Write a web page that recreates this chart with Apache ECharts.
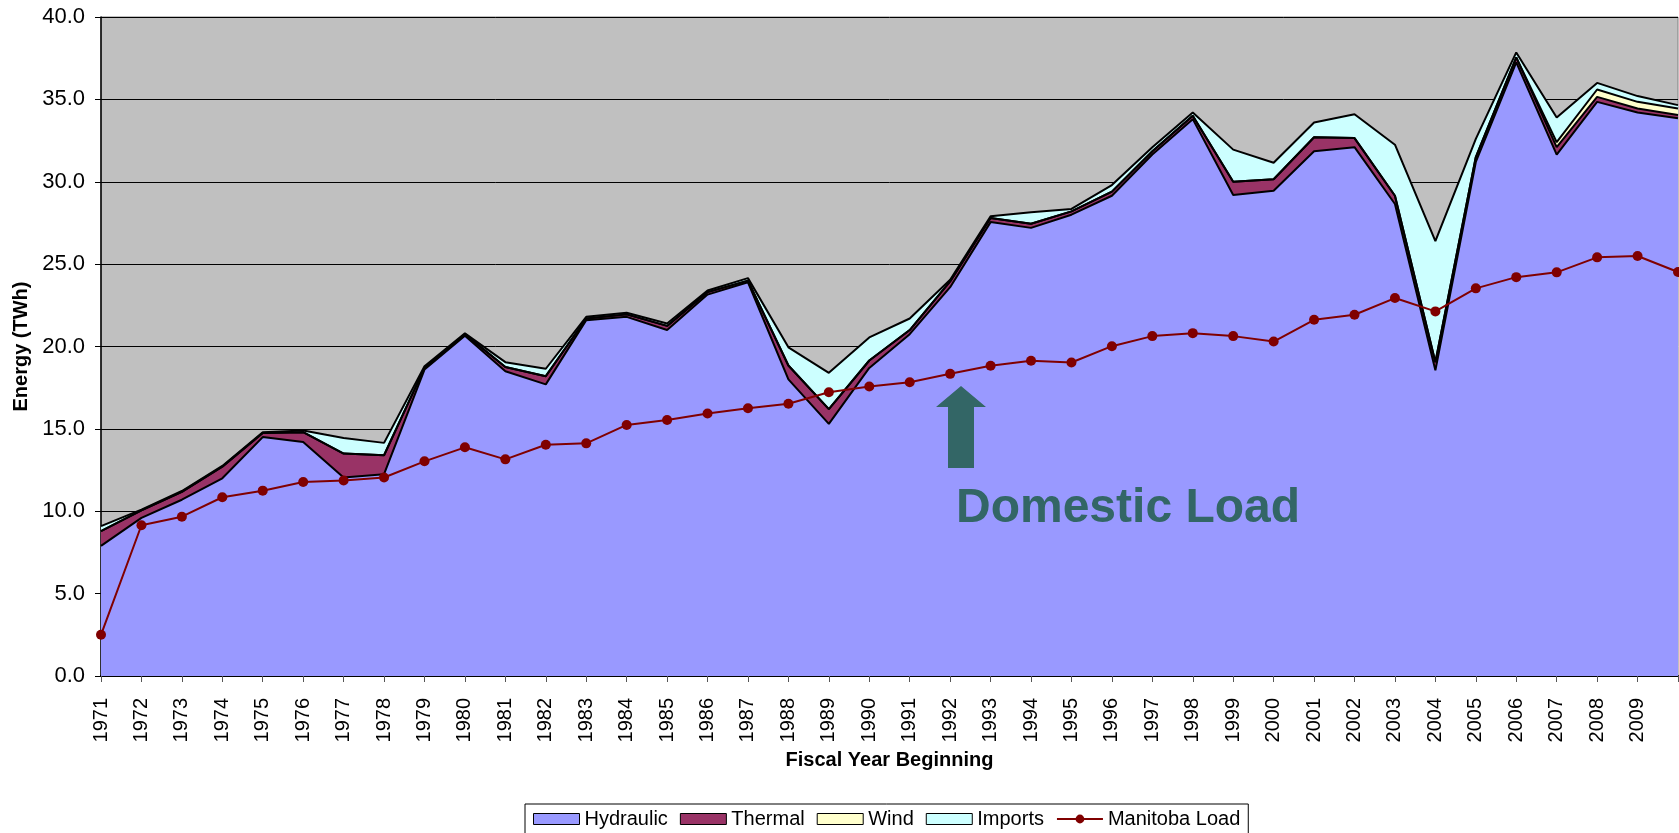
<!DOCTYPE html>
<html>
<head>
<meta charset="utf-8">
<script src="https://cdn.jsdelivr.net/npm/echarts@6/dist/echarts.min.js"></script>
<style>
html,body{margin:0;padding:0;background:#fff;}
#chart{width:1679px;height:833px;}
</style>
</head>
<body>
<div id="chart"></div>
<script>
const years = ['1971','1972','1973','1974','1975','1976','1977','1978','1979','1980',
  '1981','1982','1983','1984','1985','1986','1987','1988','1989','1990',
  '1991','1992','1993','1994','1995','1996','1997','1998','1999','2000',
  '2001','2002','2003','2004','2005','2006','2007','2008','2009','2010'];
const hydraulic = [7.9,9.6,10.7,12.0,14.5,14.2,12.05,12.25,18.6,20.65,
  18.5,17.7,21.6,21.8,21.0,23.15,23.9,18.0,15.3,18.7,
  20.75,23.6,27.55,27.2,28.0,29.15,31.65,33.8,29.2,29.45,
  31.85,32.1,28.65,18.55,31.2,37.25,31.65,34.85,34.2,33.85];
const thermal = [0.9,0.45,0.48,0.7,0.25,0.6,1.45,1.15,0.1,0.1,
  0.25,0.5,0.1,0.15,0.25,0.15,0.1,0.85,0.9,0.45,
  0.25,0.35,0.25,0.25,0.2,0.25,0.2,0.2,0.8,0.7,
  0.85,0.55,0.5,0.5,0.3,0.3,0.45,0.3,0.25,0.2];
const wind = [0,0,0,0,0,0,0,0,0,0,
  0,0,0,0,0,0,0,0,0,0,
  0,0,0,0,0,0,0,0,0,0,
  0,0,0,0,0,0,0.3,0.45,0.4,0.4];
const imports = [0.3,0.05,0.05,0.05,0.05,0.1,0.95,0.75,0.1,0.05,
  0.3,0.45,0.1,0.1,0.15,0.1,0.15,1.1,2.2,1.4,
  0.7,0.1,0.1,0.7,0.15,0.4,0.25,0.2,1.95,1.0,
  0.9,1.45,3.1,7.35,1.1,0.3,1.5,0.4,0.35,0.2];
const manitobaLoad = [2.5,9.15,9.67,10.85,11.25,11.77,11.87,12.05,13.03,13.88,
  13.15,14.04,14.12,15.24,15.54,15.93,16.25,16.53,17.22,17.57,
  17.83,18.34,18.83,19.13,19.03,20.02,20.63,20.81,20.63,20.3,
  21.62,21.93,22.94,22.13,23.53,24.21,24.5,25.41,25.49,24.52];
const yTicks = {min:0, max:40, interval:5};

const FONT = 'Liberation Sans, Arial, sans-serif';
const chart = echarts.init(document.getElementById('chart'), null, {renderer:'canvas'});

function areaSeries(name, data, color){
  return {
    name: name, type:'line', stack:'total', data: data,
    symbol:'none', showSymbol:false,
    lineStyle:{color:'#000', width:2},
    itemStyle:{color:color},
    areaStyle:{color:color, opacity:1},
    emphasis:{disabled:true},
    animation:false
  };
}

const option = {
  animation:false,
  backgroundColor:'#ffffff',
  textStyle:{fontFamily:FONT},
  grid:{left:101, right:1, top:17, bottom:157, containLabel:false,
        show:true, backgroundColor:'#C0C0C0', borderColor:'#808080', borderWidth:1},
  xAxis:{
    type:'category', data:years, boundaryGap:false,
    name:'Fiscal Year Beginning', nameLocation:'middle', nameGap:74,
    nameTextStyle:{fontFamily:FONT, fontSize:20, fontWeight:'bold', color:'#000'},
    axisLine:{lineStyle:{color:'#000', width:2}},
    axisTick:{show:true, length:6, interval:0, lineStyle:{color:'#555', width:1}},
    axisLabel:{rotate:90, fontFamily:FONT, fontSize:20, color:'#000', margin:22,
      interval:function(i){ return i < years.length-1; }},
    splitLine:{show:false}
  },
  yAxis:{
    type:'value', min:yTicks.min, max:yTicks.max, interval:yTicks.interval,
    name:'Energy (TWh)', nameLocation:'middle', nameGap:69, nameRotate:90,
    nameTextStyle:{fontFamily:FONT, fontSize:20, fontWeight:'bold', color:'#000'},
    axisLine:{show:true, lineStyle:{color:'#000', width:1.5}},
    axisTick:{show:true, length:6, lineStyle:{color:'#000', width:1}},
    axisLabel:{fontFamily:FONT, fontSize:22, color:'#000', margin:16,
      formatter:function(v){ return v.toFixed(1); }},
    splitLine:{show:true, lineStyle:{color:'#000', width:1}}
  },
  legend:{
    show:true, bottom:-4, left:525,
    orient:'horizontal',
    backgroundColor:'#fff', borderColor:'#000', borderWidth:1,
    padding:[5,8,8,8], itemGap:12, itemWidth:46, itemHeight:11,
    textStyle:{fontFamily:FONT, fontSize:20, color:'#000'},
    data:[
      {name:'Hydraulic', icon:'rect', itemStyle:{color:'#9999FF', borderColor:'#000', borderWidth:1}},
      {name:'Thermal', icon:'rect', itemStyle:{color:'#993366', borderColor:'#000', borderWidth:1}},
      {name:'Wind', icon:'rect', itemStyle:{color:'#FFFFCC', borderColor:'#000', borderWidth:1}},
      {name:'Imports', icon:'rect', itemStyle:{color:'#CCFFFF', borderColor:'#000', borderWidth:1}},
      {name:'Manitoba Load'}
    ]
  },
  series:[
    areaSeries('Hydraulic', hydraulic, '#9999FF'),
    areaSeries('Thermal', thermal, '#993366'),
    areaSeries('Wind', wind, '#FFFFCC'),
    areaSeries('Imports', imports, '#CCFFFF'),
    {
      name:'Manitoba Load', type:'line', data:manitobaLoad,
      symbol:'circle', symbolSize:10, showSymbol:true,
      lineStyle:{color:'#800000', width:2},
      itemStyle:{color:'#800000'},
      emphasis:{disabled:true},
      z:5, animation:false
    }
  ],
  graphic:[
    {
      type:'polygon', z:10,
      shape:{points:[[961,386],[986,407],[974,407],[974,468],[948,468],[948,407],[936,407]]},
      style:{fill:'#336666'}
    },
    {
      type:'text', z:10, x:956, y:509,
      style:{text:'Domestic Load', fill:'#336666', font:'bold 48px ' + FONT,
             textAlign:'left', textVerticalAlign:'middle'}
    }
  ]
};
chart.setOption(option);
</script>
</body>
</html>
